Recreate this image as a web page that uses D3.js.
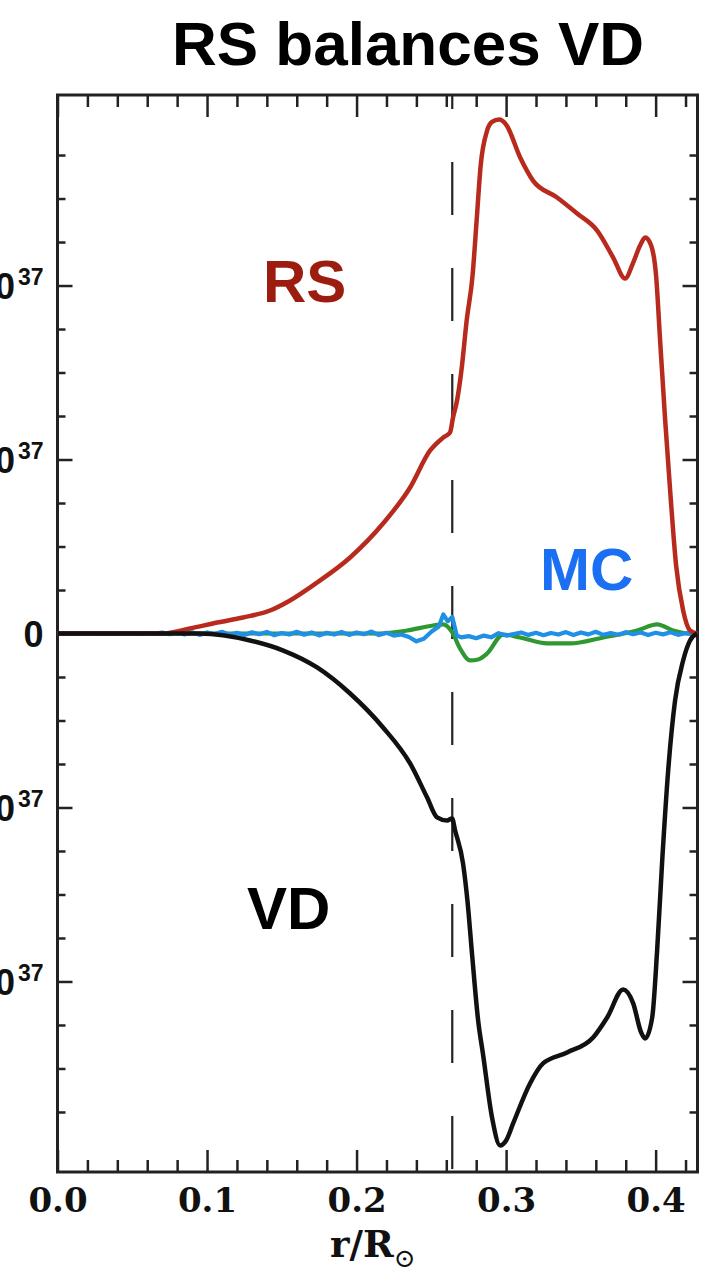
<!DOCTYPE html>
<html><head><meta charset="utf-8">
<script src="https://cdn.jsdelivr.net/npm/d3@7"></script>
<style>body{margin:0;background:#fff}svg{display:block}</style>
</head><body>
<svg id="c" width="711" height="1271"></svg>
<script>
// ---- data (r in R_sun, values in units of 1e37) ----
const rsR = [0,0.07,0.0886,0.1067,0.1241,0.1421,0.1555,0.1736,0.1957,0.2177,0.2358,0.2492,0.2579,0.2625,0.2645,0.2672,0.2702,0.2736,0.2776,0.2803,0.2830,0.2873,0.2906,0.2953,0.300,0.3094,0.318,0.3341,0.3475,0.3609,0.3716,0.3796,0.385,0.3896,0.393,0.397,0.4003,0.403,0.4064,0.4097,0.4137,0.4184,0.423,0.4278];
const rsV = [0,0,0.029,0.063,0.092,0.132,0.19,0.293,0.437,0.632,0.839,1.052,1.126,1.155,1.241,1.339,1.517,1.796,2.06,2.374,2.69,2.89,2.94,2.954,2.925,2.736,2.603,2.506,2.414,2.316,2.161,2.04,2.132,2.23,2.276,2.23,2.057,1.684,1.224,0.822,0.391,0.132,0.017,0];

const vdR = [0,0.07,0.0953,0.1288,0.151,0.1736,0.1957,0.2177,0.2358,0.2472,0.2538,0.2605,0.2639,0.2659,0.2712,0.2742,0.2773,0.2813,0.2846,0.2906,0.296,0.300,0.3047,0.316,0.3247,0.3408,0.3582,0.3676,0.3783,0.385,0.3903,0.393,0.3977,0.401,0.4044,0.4084,0.413,0.4184,0.423,0.4278];
const vdV = [0,0,0,-0.04,-0.098,-0.195,-0.345,-0.54,-0.747,-0.943,-1.057,-1.075,-1.063,-1.132,-1.322,-1.54,-1.85,-2.224,-2.42,-2.782,-2.943,-2.914,-2.816,-2.586,-2.471,-2.408,-2.322,-2.207,-2.046,-2.126,-2.293,-2.328,-2.207,-1.822,-1.305,-0.787,-0.385,-0.155,-0.04,0];

const gR = [0,0.2157,0.2338,0.2512,0.2579,0.264,0.2692,0.2759,0.2813,0.2873,0.298,0.3094,0.3274,0.3428,0.365,0.3876,0.401,0.4117,0.423,0.4278];
const gV = [0,0,0.017,0.046,0.052,0.006,-0.086,-0.155,-0.149,-0.115,-0.006,-0.023,-0.057,-0.057,-0.023,0.017,0.052,0.017,0,0];

const mcR = [0,0.005,0.010,0.015,0.020,0.025,0.030,0.035,0.040,0.045,0.050,0.055,0.060,0.065,0.070,0.075,0.080,0.085,0.090,0.095,0.100,0.105,0.110,0.115,0.120,0.125,0.130,0.135,0.140,0.145,0.150,0.155,0.160,0.165,0.170,0.175,0.180,0.185,0.190,0.195,0.200,0.205,0.210,0.215,0.220,0.225,0.230,0.235,0.240,0.245,0.250,0.255,0.258,0.261,0.264,0.267,0.270,0.275,0.280,0.285,0.290,0.295,0.300,0.305,0.310,0.315,0.320,0.325,0.330,0.335,0.340,0.345,0.350,0.355,0.360,0.365,0.370,0.375,0.380,0.385,0.390,0.395,0.400,0.405,0.410,0.415,0.420,0.425,0.428];
const mcV = [0,0.001,-0.002,0.002,-0.001,0.003,-0.002,0.001,-0.003,0.002,0,-0.002,0.003,-0.001,0.005,-0.004,0.008,-0.005,0.007,-0.008,0.006,-0.003,0.010,-0.007,0.004,-0.009,0.007,-0.004,0.009,-0.010,0.003,-0.006,0.010,-0.007,0.006,-0.011,0.004,-0.006,0.009,-0.008,0.006,-0.004,0.011,-0.009,0.004,-0.012,-0.006,-0.020,-0.045,-0.030,0.010,0.040,0.110,0.070,0.095,-0.012,-0.022,-0.015,-0.027,-0.012,-0.022,0.002,-0.012,-0.003,0.006,-0.008,0.004,-0.010,0.003,-0.006,0.008,-0.009,0.006,-0.005,0.010,-0.008,0.003,-0.007,0.008,-0.004,0.006,-0.009,0.004,-0.005,0.007,-0.008,0.003,-0.004,0];

const dashR = 0.264;
const xMajorTicks = [0,0.1,0.2,0.3,0.4];
const xMinorTicks = [0.02,0.04,0.06,0.08,0.12,0.14,0.16,0.18,0.22,0.24,0.26,0.28,0.32,0.34,0.36,0.38,0.42];
const xTickLabels = ["0.0","0.1","0.2","0.3","0.4"];
const yMajorTicks = [-2,-1,0,1,2];
const yMinorTicks = [-2.75,-2.5,-2.25,-1.75,-1.5,-1.25,-0.75,-0.5,-0.25,0.25,0.5,0.75,1.25,1.5,1.75,2.25,2.5,2.75];
const yTickLabels = ["-2×10","-1×10","0","1×10","2×10"];
const yExp = "37";

// ---- layout ----
const svg = d3.select("#c");
const L=57.5, R=697.5, T=95, B=1172;
const x = d3.scaleLinear().domain([0,0.428]).range([L,R]);
const y = d3.scaleLinear().domain([-3.095,3.095]).range([B,T]);
const axisCol="#222";

// title
svg.append("text").attr("x",408).attr("y",65).attr("text-anchor","middle")
  .attr("font-family","Liberation Sans, Arial, sans-serif").attr("font-weight","bold")
  .attr("font-size",62).attr("fill","#000").text("RS balances VD");

// axes with inward ticks
function styleAxis(g){ g.select(".domain").remove(); g.selectAll(".tick line").attr("stroke",axisCol).attr("stroke-width",2.5); }
svg.append("g").attr("transform",`translate(0,${B})`)
  .call(d3.axisBottom(x).tickValues(xMinorTicks).tickSizeInner(-12).tickFormat("")).call(styleAxis);
const xb = svg.append("g").attr("transform",`translate(0,${B})`)
  .call(d3.axisBottom(x).tickValues(xMajorTicks).tickSizeInner(-22).tickPadding(12).tickFormat((d,i)=>xTickLabels[i])).call(styleAxis);
xb.selectAll(".tick text").attr("font-family","DejaVu Serif, serif").attr("font-weight","bold")
  .attr("font-size",34).attr("fill","#111").attr("y",40).attr("dy",0);
svg.append("g").attr("transform",`translate(0,${T})`)
  .call(d3.axisTop(x).tickValues(xMinorTicks).tickSizeInner(-12).tickFormat("")).call(styleAxis);
svg.append("g").attr("transform",`translate(0,${T})`)
  .call(d3.axisTop(x).tickValues(xMajorTicks).tickSizeInner(-22).tickFormat("")).call(styleAxis);

svg.append("g").attr("transform",`translate(${L},0)`)
  .call(d3.axisLeft(y).tickValues(yMinorTicks).tickSizeInner(-8).tickFormat("")).call(styleAxis);
const yl = svg.append("g").attr("transform",`translate(${L},0)`)
  .call(d3.axisLeft(y).tickValues(yMajorTicks).tickSizeInner(-15).tickPadding(14).tickFormat("")).call(styleAxis);
yl.selectAll(".tick").each(function(d,i){
  const t = d3.select(this).append("text").attr("x",-14).attr("dy","0.36em")
    .attr("text-anchor","end").attr("font-family","Liberation Sans, Arial, sans-serif")
    .attr("font-weight","bold").attr("font-size",36).attr("fill","#111");
  t.append("tspan").text(yTickLabels[i]);
  if (yTickLabels[i] !== "0") t.append("tspan").attr("dx",3).attr("dy","-0.62em").attr("font-size",23).text(yExp);
});
svg.append("g").attr("transform",`translate(${R},0)`)
  .call(d3.axisRight(y).tickValues(yMinorTicks).tickSizeInner(-8).tickFormat("")).call(styleAxis);
svg.append("g").attr("transform",`translate(${R},0)`)
  .call(d3.axisRight(y).tickValues(yMajorTicks).tickSizeInner(-15).tickFormat("")).call(styleAxis);

// frame
svg.append("rect").attr("x",L).attr("y",T).attr("width",R-L).attr("height",B-T)
  .attr("fill","none").attr("stroke",axisCol).attr("stroke-width",3);

// dashed line
svg.append("line").attr("x1",x(dashR)).attr("x2",x(dashR)).attr("y1",T).attr("y2",B)
  .attr("stroke","#222").attr("stroke-width",2.2).attr("stroke-dasharray","53,53").attr("stroke-dashoffset",39);

// x label
const xl = svg.append("text").attr("x",330).attr("y",1257).attr("text-anchor","start")
  .attr("font-family","DejaVu Serif, serif").attr("font-weight","bold").attr("font-size",37).attr("fill","#111");
xl.append("tspan").text("r/R");
xl.append("tspan").attr("dy",10).attr("font-size",26).attr("font-weight","normal").text("⊙");

// curves
const line = (rs,vs,curve)=>d3.line().x((d,i)=>x(rs[i])).y((d,i)=>y(vs[i])).curve(curve)(vs);
svg.append("path").attr("d",line(gR,gV,d3.curveMonotoneX)).attr("fill","none").attr("stroke","#2f9830").attr("stroke-width",4.2);
svg.append("path").attr("d",line(mcR,mcV,d3.curveLinear)).attr("fill","none").attr("stroke","#2090e6").attr("stroke-width",4.2).attr("stroke-linejoin","round");
svg.append("path").attr("d",line(rsR,rsV,d3.curveMonotoneX)).attr("fill","none").attr("stroke","#b82a1e").attr("stroke-width",4.5).attr("stroke-linejoin","round");
svg.append("path").attr("d",line(vdR,vdV,d3.curveMonotoneX)).attr("fill","none").attr("stroke","#111").attr("stroke-width",4.5).attr("stroke-linejoin","round");

// labels
const lab = (t,xx,yy,c)=>svg.append("text").attr("x",xx).attr("y",yy).attr("font-family","Liberation Sans, Arial, sans-serif")
  .attr("font-weight","bold").attr("font-size",60).attr("fill",c).text(t);
lab("RS",263,302,"#9c1c10");
lab("MC",540,590,"#1a6ff2");
lab("VD",247,929,"#000");
</script>
</body></html>
